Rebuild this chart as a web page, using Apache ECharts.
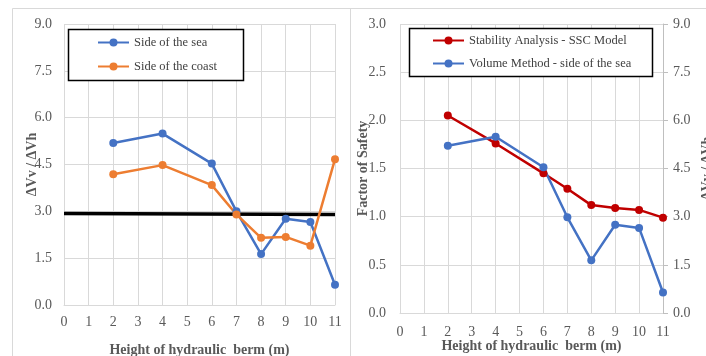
<!DOCTYPE html>
<html><head><meta charset="utf-8">
<script src="https://cdn.jsdelivr.net/npm/echarts@6/dist/echarts.min.js"></script>
<style>html,body{margin:0;padding:0;background:#fff}#c{width:706px;height:356px}</style>
</head><body><div id="c"></div>
<script>
const heights = [2, 4, 6, 7, 8, 9, 10, 11];
const seaSide = [5.19, 5.49, 4.53, 3.0, 1.63, 2.76, 2.66, 0.65];
const coastSide = [4.19, 4.48, 3.84, 2.9, 2.15, 2.18, 1.9, 4.67];
const thresholdX = [0, 11];
const thresholdY = [2.93, 2.9];
const safetySSC = [2.05, 1.76, 1.45, 1.29, 1.12, 1.09, 1.07, 0.99];
const volumeSea = [5.21, 5.49, 4.54, 2.98, 1.64, 2.75, 2.65, 0.64];

const pair = (xs, ys) => xs.map((x, i) => [x, ys[i]]);
const FONT = '"Liberation Serif", "DejaVu Serif", serif';
const LBL = { fontFamily: FONT, fontSize: 14, color: '#595959' };
const NAME = { fontFamily: FONT, fontSize: 14, fontWeight: 'bold', color: '#595959' };
const GRIDLINE = { show: true, lineStyle: { color: '#d9d9d9', width: 1 } };

function xAx(gi, margin, gap) {
  return { type: 'value', gridIndex: gi, min: 0, max: 11, interval: 1,
    axisLine: { show: true, lineStyle: { color: '#d9d9d9' } }, axisTick: { show: false },
    splitLine: GRIDLINE, axisLabel: Object.assign({ margin: margin }, LBL),
    name: 'Height of hydraulic  berm (m)', nameLocation: 'middle', nameGap: gap, nameMoveOverlap: false, nameTextStyle: NAME };
}
function line(name, data, color, xi, yi) {
  return { name: name, type: 'line', xAxisIndex: xi, yAxisIndex: yi, data: data,
    symbol: 'circle', symbolSize: 8, color: color,
    lineStyle: { width: 2.5, color: color }, itemStyle: { color: color } };
}

const chart = echarts.init(document.getElementById('c'));
chart.setOption({
  animation: false,
  backgroundColor: '#fff',
  grid: [
    { left: 64, right: 371, top: 24, bottom: 51, containLabel: false, outerBoundsMode: 'none' },
    { left: 400, right: 43, top: 24, bottom: 43, containLabel: false, outerBoundsMode: 'none' }
  ],
  xAxis: [xAx(0, 10, 38), xAx(1, 12, 26)],
  yAxis: [
    { type: 'value', gridIndex: 0, min: 0, max: 9, interval: 1.5,
      axisLine: { show: false }, axisTick: { show: false }, splitLine: GRIDLINE,
      axisLabel: Object.assign({ margin: 12, formatter: v => v.toFixed(1) }, LBL),
      name: 'ΔVv / ΔVh', nameLocation: 'middle', nameGap: 25, nameMoveOverlap: false, nameTextStyle: NAME },
    { type: 'value', gridIndex: 1, min: 0, max: 3, interval: 0.5, position: 'left',
      axisLine: { show: false }, axisTick: { show: false }, splitLine: GRIDLINE,
      axisLabel: Object.assign({ margin: 14, formatter: v => v.toFixed(1) }, LBL),
      name: 'Factor of Safety', nameLocation: 'middle', nameGap: 30, nameMoveOverlap: false, nameTextStyle: NAME },
    { type: 'value', gridIndex: 1, min: 0, max: 9, interval: 1.5, position: 'right',
      axisLine: { show: true, lineStyle: { color: '#bfbfbf' } },
      axisTick: { show: true, inside: false, length: 5, lineStyle: { color: '#bfbfbf' } },
      splitLine: { show: false },
      axisLabel: Object.assign({ margin: 10, formatter: v => v.toFixed(1) }, LBL),
      name: 'ΔVv / ΔVh', nameLocation: 'middle', nameGap: 37, nameMoveOverlap: false, nameTextStyle: NAME }
  ],
  legend: [
    { data: ['Side of the sea', 'Side of the coast'], orient: 'vertical', left: 97, top: 36, padding: 0,
      itemWidth: 31, itemHeight: 10, itemGap: 11, z: 10,
      textStyle: { fontFamily: FONT, fontSize: 12.5, color: '#404040' } },
    { data: ['Stability Analysis - SSC Model', 'Volume Method - side of the sea'], orient: 'vertical', left: 432, top: 34, padding: 0,
      itemWidth: 31, itemHeight: 10, itemGap: 10, z: 10,
      textStyle: { fontFamily: FONT, fontSize: 12.5, color: '#404040' } }
  ],
  graphic: [
    { type: 'rect', shape: { x: 12.5, y: 8.5, width: 338, height: 360 }, style: { fill: 'none', stroke: '#d9d9d9', lineWidth: 1 }, silent: true, z: -1 },
    { type: 'line', shape: { x1: 350, y1: 8.5, x2: 706, y2: 8.5 }, style: { stroke: '#d9d9d9', lineWidth: 1 }, silent: true, z: -1 },
    { type: 'rect', shape: { x: 68.5, y: 29.5, width: 175, height: 51 }, style: { fill: '#fff', stroke: '#000', lineWidth: 1.5 }, z: 1 },
    { type: 'rect', shape: { x: 409.5, y: 28.5, width: 243, height: 48 }, style: { fill: '#fff', stroke: '#000', lineWidth: 1.5 }, z: 1 }
  ],
  series: [
    line('Side of the sea', pair(heights, seaSide), '#4472C4', 0, 0),
    line('Side of the coast', pair(heights, coastSide), '#ED7D31', 0, 0),
    { name: 'threshold', type: 'line', xAxisIndex: 0, yAxisIndex: 0, data: pair(thresholdX, thresholdY),
      symbol: 'none', lineStyle: { color: '#000', width: 3.5 }, z: 1 },
    line('Stability Analysis - SSC Model', pair(heights, safetySSC), '#C00000', 1, 1),
    line('Volume Method - side of the sea', pair(heights, volumeSea), '#4472C4', 1, 2)
  ]
});
</script></body></html>
